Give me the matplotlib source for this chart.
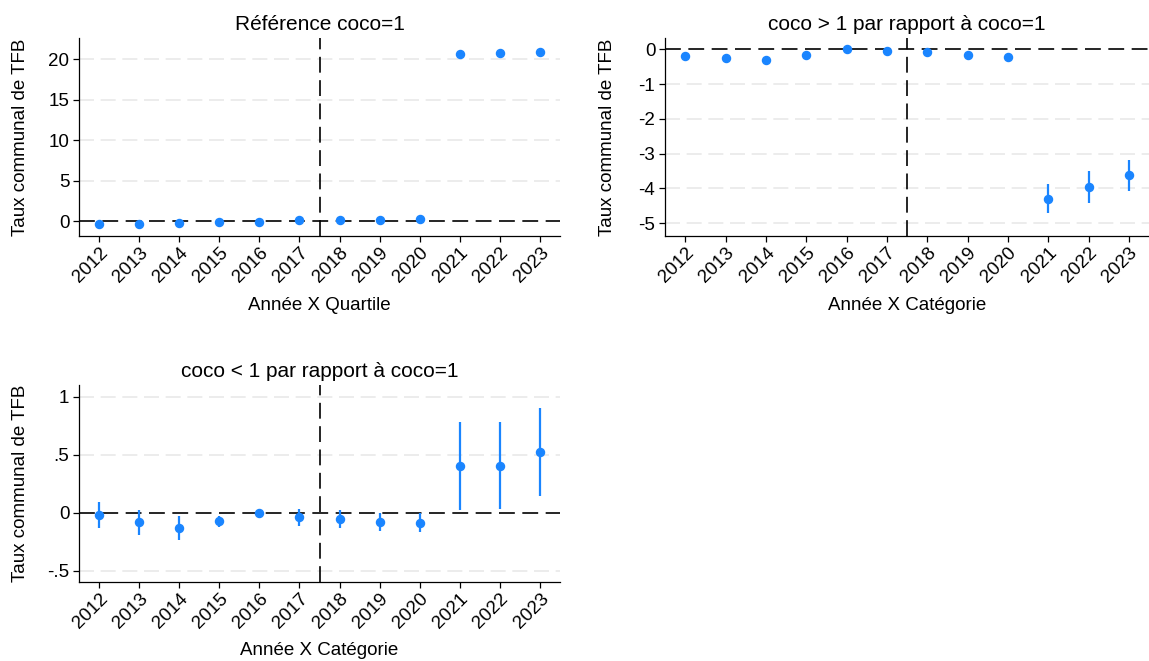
import numpy as np
import matplotlib
matplotlib.use('Agg')
import matplotlib.pyplot as plt

plt.rcParams['font.family'] = ['Liberation Sans', 'DejaVu Sans']
plt.rcParams['axes.unicode_minus'] = False

# Années et estimations
annees = [2012, 2013, 2014, 2015, 2016, 2017, 2018, 2019, 2020, 2021, 2022, 2023]

# Référence coco=1
ref_coef = [-0.33, -0.29, -0.25, -0.12, -0.04, 0.12, 0.20, 0.20, 0.29, 20.62, 20.74, 20.90]
ref_lo   = [-0.43, -0.39, -0.35, -0.22, -0.10, 0.02, 0.10, 0.10, 0.19, 20.52, 20.64, 20.80]
ref_hi   = [-0.23, -0.19, -0.15, -0.02, 0.02, 0.22, 0.30, 0.30, 0.39, 20.72, 20.84, 21.00]

# coco > 1 par rapport à coco=1
sup_coef = [-0.20, -0.26, -0.30, -0.15, 0.00, -0.05, -0.08, -0.17, -0.23, -4.30, -3.97, -3.62]
sup_lo   = [-0.26, -0.32, -0.36, -0.21, 0.00, -0.11, -0.14, -0.23, -0.29, -4.72, -4.43, -4.08]
sup_hi   = [-0.14, -0.20, -0.24, -0.09, 0.00, 0.01, -0.02, -0.11, -0.17, -3.88, -3.51, -3.17]

# coco < 1 par rapport à coco=1
inf_coef = [-0.02, -0.08, -0.13, -0.066, 0.00, -0.037, -0.055, -0.075, -0.086, 0.402, 0.405, 0.523]
inf_lo   = [-0.13, -0.19, -0.236, -0.118, 0.00, -0.112, -0.13, -0.155, -0.167, 0.023, 0.029, 0.141]
inf_hi   = [0.09, 0.026, -0.023, -0.023, 0.00, 0.037, 0.023, 0.003, -0.003, 0.784, 0.784, 0.905]

bleu = '#1a85ff'

panneaux = [
    ('Référence coco=1', 'Année X Quartile', ref_coef, ref_lo, ref_hi,
     [0, 5, 10, 15, 20], ['0', '5', '10', '15', '20'], (-1.8, 22.6),
     [0.0688, 0.6430, 0.4186, 0.2995], -0.104),
    ('coco > 1 par rapport à coco=1', 'Année X Catégorie', sup_coef, sup_lo, sup_hi,
     [-5, -4, -3, -2, -1, 0], ['-5', '-4', '-3', '-2', '-1', '0'], (-5.37, 0.33),
     [0.5788, 0.6430, 0.4212, 0.2995], -0.101),
    ('coco < 1 par rapport à coco=1', 'Année X Catégorie', inf_coef, inf_lo, inf_hi,
     [-0.5, 0, 0.5, 1], ['-.5', '0', '.5', '1'], (-0.595, 1.10),
     [0.0688, 0.1195, 0.4186, 0.2980], -0.104),
]

fig = plt.figure(figsize=(11.49, 6.61), dpi=100)

for titre, xlab, coef, lo, hi, yt, ytl, ylim, pos, ylx in panneaux:
    ax = fig.add_axes(pos)
    x = np.array(annees)
    c = np.array(coef)
    ax.vlines(x, lo, hi, color=bleu, lw=1.6, zorder=3)
    ax.plot(x, c, 'o', color=bleu, ms=5.8, zorder=4)

    ax.axhline(0, color='black', lw=1.2, linestyle=(0, (9.5, 4.5)), zorder=2)
    ax.axvline(2017.5, color='black', lw=1.2, linestyle=(0, (9.5, 4.5)), zorder=2)

    ax.set_xlim(2011.5, 2023.5)
    ax.set_ylim(*ylim)
    ax.set_xticks(annees)
    ax.set_xticklabels([str(a) for a in annees], rotation=45, ha='right',
                       rotation_mode='anchor')
    ax.set_yticks(yt)
    ax.set_yticklabels(ytl)
    for t in yt:
        if t != 0:
            ax.axhline(t, color='#e9e9e9', lw=1.2, linestyle=(0, (9, 4)), zorder=1)

    ax.tick_params(axis='both', labelsize=13.5, length=4, width=0.9, pad=3)
    ax.tick_params(axis='x', pad=2)
    for s in ['top', 'right']:
        ax.spines[s].set_visible(False)
    for s in ['left', 'bottom']:
        ax.spines[s].set_linewidth(0.9)

    ax.set_title(titre, fontsize=15, pad=6)
    ax.set_ylabel('Taux communal de TFB', fontsize=13.5)
    ax.yaxis.set_label_coords(ylx, 0.5)
    ax.set_xlabel(xlab, fontsize=13.5)
    ax.xaxis.label.set_verticalalignment('center')
    ax.xaxis.set_label_coords(0.5, -0.35)

fig.savefig('out.png', dpi=100)
